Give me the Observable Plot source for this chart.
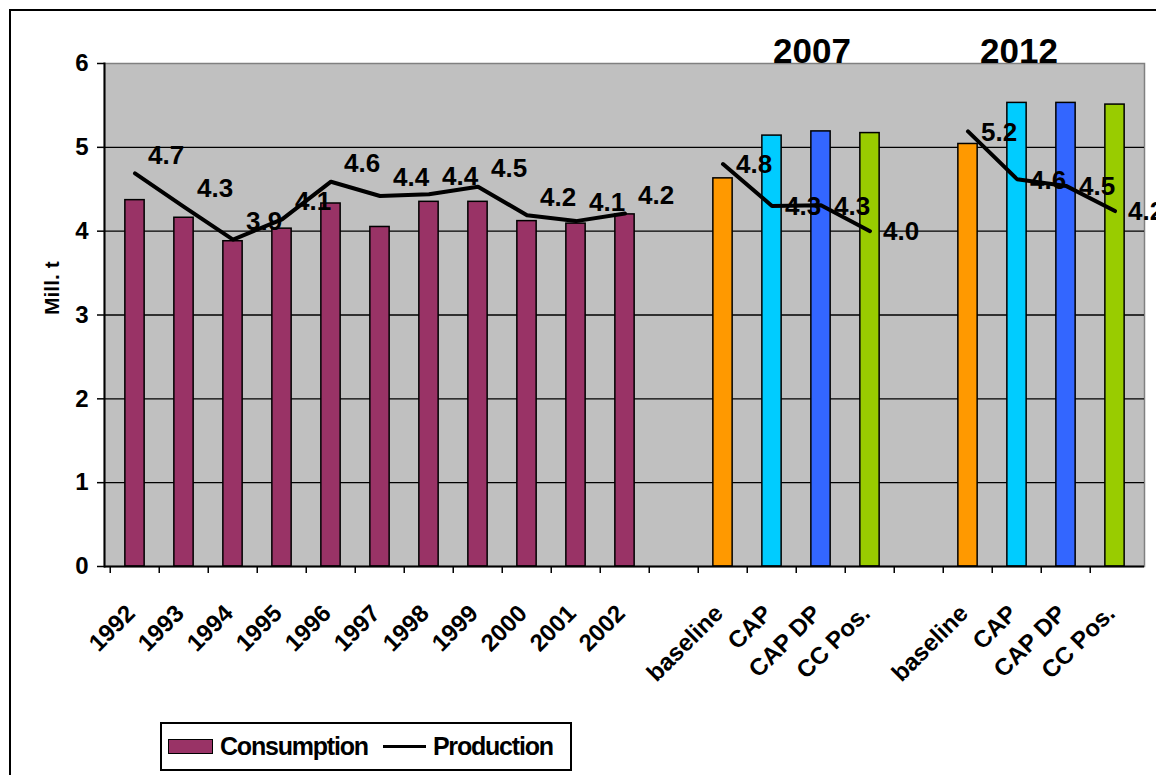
<!DOCTYPE html>
<html>
<head>
<meta charset="utf-8">
<script src="https://cdn.jsdelivr.net/npm/d3@7"></script>
<script src="https://cdn.jsdelivr.net/npm/@observablehq/plot@0.6"></script>
<style>
  html, body { margin: 0; padding: 0; background: #fff; overflow: hidden; width: 1156px; height: 775px;
    font-family: "Liberation Sans", Arial, sans-serif; }
  #frame { position: absolute; left: 9px; top: 9px; width: 1300px; height: 1000px; border: 2px solid #000; box-sizing: border-box; }
  #chart { position: absolute; left: 0; top: 0; }
  #legend { position: absolute; left: 160px; top: 722px; width: 412px; height: 49px; box-sizing: border-box;
    border: 2px solid #000; background: #fff; display: flex; align-items: center;
    font-weight: bold; font-size: 25px; letter-spacing: -1.2px; color: #000; }
  #legend .sw { width: 45px; height: 15px; box-sizing: border-box; border: 1.5px solid #000; margin-left: 6px; }
  #legend .ln { width: 43px; height: 3.5px; background: #000; margin-left: 15px; }
  #legend .lab { margin-left: 7px; }
</style>
</head>
<body>
<div id="frame"></div>
<div id="chart"></div>
<div id="legend"></div>
<script>
// ---- data ----
const years = ["1992","1993","1994","1995","1996","1997","1998","1999","2000","2001","2002"];
const consumptionHist = [4.37, 4.16, 3.88, 4.03, 4.33, 4.05, 4.35, 4.35, 4.12, 4.09, 4.20];
const productionHist  = [4.69, 4.29, 3.90, 4.14, 4.59, 4.42, 4.44, 4.53, 4.19, 4.12, 4.21];

const scenarios = ["baseline", "CAP", "CAP DP", "CC Pos."];
const consumption2007 = [4.63, 5.14, 5.19, 5.17];
const production2007  = [4.80, 4.30, 4.31, 4.00];
const consumption2012 = [5.04, 5.53, 5.53, 5.51];
const production2012  = [5.19, 4.62, 4.54, 4.24];

const groupTitles = ["2007", "2012"];
const yTicks = [0, 1, 2, 3, 4, 5, 6];
const seriesNames = ["Consumption", "Production"];

// ---- styles ----
const consumptionColor = "#993366";
const scenarioColors = {"baseline": "#FF9900", "CAP": "#00CCFF", "CAP DP": "#3366FF", "CC Pos.": "#99CC00"};
const FONT = "Liberation Sans, Arial, sans-serif";

// ---- table ----
const rows = [];
years.forEach((y, i) => rows.push({key: y, label: y, group: "hist",
  consumption: consumptionHist[i], production: productionHist[i], fill: consumptionColor}));
rows.push({key: "gap1", label: "", group: "gap"});
scenarios.forEach((s, i) => rows.push({key: "2007 " + s, label: s, group: "2007",
  consumption: consumption2007[i], production: production2007[i], fill: scenarioColors[s]}));
rows.push({key: "gap2", label: "", group: "gap"});
scenarios.forEach((s, i) => rows.push({key: "2012 " + s, label: s, group: "2012",
  consumption: consumption2012[i], production: production2012[i], fill: scenarioColors[s]}));

const data = rows.filter(d => d.group !== "gap");
const hist = data.filter(d => d.group === "hist");
const scen = data.filter(d => d.group !== "hist");
const labelOf = new Map(rows.map(d => [d.key, d.label]));

const W = 1156, H = 700, ML = 104, MR = 12, MT = 63, MB = 134;
const step = (W - ML - MR) / rows.length;

const chart = Plot.plot({
  width: W, height: H,
  marginLeft: ML, marginRight: MR, marginTop: MT, marginBottom: MB,
  style: {fontFamily: FONT, color: "#000", background: "transparent", overflow: "visible"},
  x: {domain: rows.map(d => d.key), padding: 0, axis: null},
  y: {domain: [0, 6], axis: null},
  marks: [
    Plot.frame({fill: "#C0C0C0", stroke: "#808080", strokeWidth: 1.5}),
    Plot.ruleY(yTicks.filter(t => t > 0 && t < 6), {stroke: "#000", strokeWidth: 1.3}),
    Plot.barY(data, {x: "key", y: "consumption", fill: "fill", stroke: "#000", strokeWidth: 1.5,
      insetLeft: step * 0.3, insetRight: step * 0.3}),
    Plot.lineY(data, {x: "key", y: "production", z: "group", stroke: "#000", strokeWidth: 4}),
    Plot.text(hist, {x: "key", y: "production", text: d => d.production.toFixed(1),
      textAnchor: "start", dx: 13, dy: -18, fontSize: 26, fontWeight: "bold", letterSpacing: "-1px"}),
    Plot.text(scen, {x: "key", y: "production", text: d => d.production.toFixed(1),
      textAnchor: "start", dx: 13, dy: 1, fontSize: 26, fontWeight: "bold", letterSpacing: "-1px"}),
    Plot.text([groupTitles[0]], {x: () => "2007 CAP DP", y: () => 6, text: d => d,
      lineAnchor: "bottom", dx: -9, dy: -1, fontSize: 35, fontWeight: "bold", letterSpacing: "-3.5px"}),
    Plot.text([groupTitles[1]], {x: () => "2012 CAP", y: () => 6, text: d => d,
      lineAnchor: "bottom", dx: 2, dy: -1, fontSize: 35, fontWeight: "bold", letterSpacing: "-3.5px"}),
    Plot.ruleY([0], {stroke: "#000", strokeWidth: 2}),
    Plot.frame({anchor: "left", stroke: "#000", strokeWidth: 2}),
    Plot.axisY({ticks: yTicks, tickSize: 7, tickPadding: 9, fontSize: 24, fontWeight: "bold",
      tickFormat: d => String(d), label: null, stroke: "#000", strokeWidth: 1.5}),
    Plot.axisX({tickSize: 7, dx: -step / 2, tickFormat: () => "", label: null, stroke: "#000", strokeWidth: 1.5}),
    Plot.axisX({tickSize: 0, tickPadding: 43, tickRotate: -45, dx: -4,
      tickFormat: k => labelOf.get(k), fontSize: 24, fontWeight: "bold", letterSpacing: "-0.8px", label: null}),
    Plot.text(["Mill. t"], {frameAnchor: "left", dx: -52, rotate: -90, text: d => d,
      fontSize: 21, fontWeight: "bold"})
  ]
});
document.getElementById("chart").appendChild(chart);

// ---- legend ----
const lg = document.getElementById("legend");
lg.innerHTML = `<div class="sw" style="background:${consumptionColor}"></div><span class="lab">${seriesNames[0]}</span>` +
  `<div class="ln"></div><span class="lab">${seriesNames[1]}</span>`;
</script>
</body>
</html>
